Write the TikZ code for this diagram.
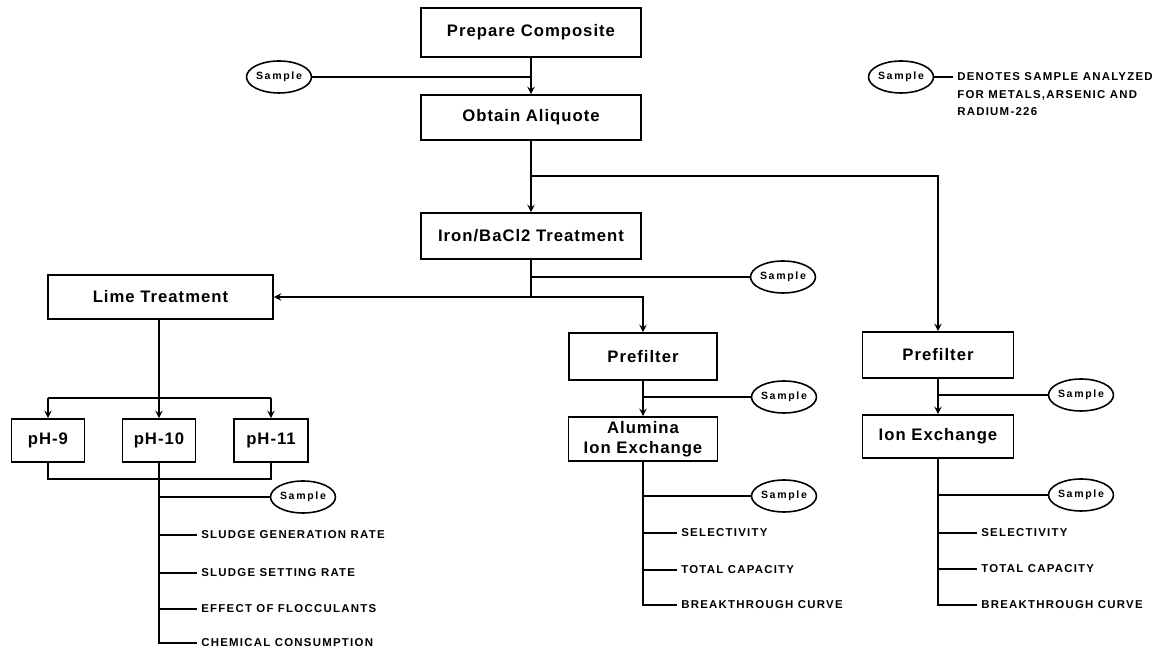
\documentclass[tikz,border=0pt]{standalone}
\usepackage{fontspec}
\newfontfamily\boxfont[LetterSpace=6]{Liberation Sans}
\newfontfamily\notefont[LetterSpace=11]{Liberation Sans}
\newfontfamily\ovalfont[LetterSpace=16]{Liberation Sans}
\usetikzlibrary{shapes.geometric}

\begin{document}
\begin{tikzpicture}[x=0.02cm, y=-0.02cm, line width=0.9pt,
        box/.style={draw, rectangle, inner sep=0pt, align=center,
            font=\boxfont\bfseries\fontsize{9.5}{11.4}\selectfont},
        sample/.style={draw, ellipse, inner sep=0pt, minimum width=1.22cm, minimum height=0.64cm,
            font=\ovalfont\bfseries\fontsize{6}{7}\selectfont},
        note/.style={anchor=west, inner sep=2pt, align=left,
            font=\notefont\bfseries\fontsize{6.5}{10}\selectfont},
        flow/.style={->, >=stealth}]
        \useasboundingbox (0,0) rectangle (1171,651);

        % Main line
        \node[box, minimum width=4.4cm, minimum height=0.98cm] (prep) at (531,32.5) {Prepare Composite};
        \node[box, minimum width=4.4cm, minimum height=0.9cm] (aliq) at (531,117.5) {Obtain Aliquote};
        \node[box, minimum width=4.4cm, minimum height=0.92cm] (iron) at (531,236) {Iron/BaCl2 Treatment};
        \node[sample] (smpA) at (279,77) {Sample};
        \node[sample] (smpB) at (783,277) {Sample};

        % Legend
        \node[sample, minimum width=1.16cm] (smpKey) at (901,77) {Sample};
        \node[note] (key) at (953,94.5) {DENOTES SAMPLE ANALYZED\\FOR METALS,ARSENIC AND\\RADIUM-226};

        % Lime branch
        \node[box, minimum width=4.5cm, minimum height=0.88cm] (lime) at (160.5,297) {Lime Treatment};
        \node[box, minimum width=1.46cm, minimum height=0.86cm] (ph9) at (48,440.5) {pH-9};
        \node[box, minimum width=1.46cm, minimum height=0.86cm] (ph10) at (159,440.5) {pH-10};
        \node[box, minimum width=1.48cm, minimum height=0.86cm] (ph11) at (271,440.5) {pH-11};
        \node[sample] (smpE) at (303,497) {Sample};
        \node[note] (sgr) at (197,535) {SLUDGE GENERATION RATE};
        \node[note] (ssr) at (197,573) {SLUDGE SETTING RATE};
        \node[note] (efl) at (197,609) {EFFECT OF FLOCCULANTS};
        \node[note] (chc) at (197,643) {CHEMICAL CONSUMPTION};
        \coordinate (phbar) at (159,398);
        \coordinate (phjoin) at (159,479);

        % Alumina branch
        \node[box, minimum width=2.96cm, minimum height=0.94cm] (pre1) at (643,356.5) {Prefilter};
        \node[box, minimum width=2.98cm, minimum height=0.88cm] (alum) at (643,439) {Alumina\\Ion Exchange};
        \node[sample] (smpC) at (784,397) {Sample};
        \node[sample] (smpD) at (784,496) {Sample};
        \node[note] (sel1) at (677,533) {SELECTIVITY};
        \node[note] (cap1) at (677,570) {TOTAL CAPACITY};
        \node[note] (brk1) at (677,605) {BREAKTHROUGH CURVE};

        % Ion exchange branch
        \node[box, minimum width=3.02cm, minimum height=0.92cm] (pre2) at (938,355) {Prefilter};
        \node[box, minimum width=3.02cm, minimum height=0.86cm] (ionx) at (938,436.5) {Ion Exchange};
        \node[sample] (smpF) at (1081,395) {Sample};
        \node[sample] (smpG) at (1081,495) {Sample};
        \node[note] (sel2) at (977,533) {SELECTIVITY};
        \node[note] (cap2) at (977,569) {TOTAL CAPACITY};
        \node[note] (brk2) at (977,605) {BREAKTHROUGH CURVE};

        \coordinate (split1) at (531,176);
        \coordinate (split2) at (531,297);

        % Edges
        \draw (prep) edge[flow] (aliq)
              (aliq) edge[flow] (iron)
              (pre1) edge[flow] (alum)
              (pre2) edge[flow] (ionx)
              (lime.south -| ph10.north) edge[flow] (ph10.north);
        \draw (smpA.east) -- (prep.south |- smpA.east);
        \draw (smpKey.east) -- (key.west |- smpKey.east);
        \draw[flow] (split1) -| (pre2.north);
        \draw (iron.south) -- (split2);
        \draw[flow] (split2) -- (lime.east);
        \draw[flow] (split2) -| (pre1.north);
        \draw (iron.south |- smpB.west) -- (smpB.west);

        % pH tests
        \draw (ph9.north |- phbar) -- (ph11.north |- phbar);
        \draw (ph9.north |- phbar) edge[flow] (ph9.north)
              (ph11.north |- phbar) edge[flow] (ph11.north);
        \draw (ph9.south) -- (ph9.south |- phjoin) -- (ph11.south |- phjoin) -- (ph11.south);
        \draw (ph10.south) |- (chc.west);
        \draw (ph10.south |- smpE.west) -- (smpE.west)
              (ph10.south |- sgr.west) -- (sgr.west)
              (ph10.south |- ssr.west) -- (ssr.west)
              (ph10.south |- efl.west) -- (efl.west);

        % Column tests
        \draw (pre1.south |- smpC.west) -- (smpC.west);
        \draw (alum.south) |- (brk1.west);
        \draw (alum.south |- smpD.west) -- (smpD.west)
              (alum.south |- sel1.west) -- (sel1.west)
              (alum.south |- cap1.west) -- (cap1.west);
        \draw (pre2.south |- smpF.west) -- (smpF.west);
        \draw (ionx.south) |- (brk2.west);
        \draw (ionx.south |- smpG.west) -- (smpG.west)
              (ionx.south |- sel2.west) -- (sel2.west)
              (ionx.south |- cap2.west) -- (cap2.west);
    \end{tikzpicture}
\end{document}
